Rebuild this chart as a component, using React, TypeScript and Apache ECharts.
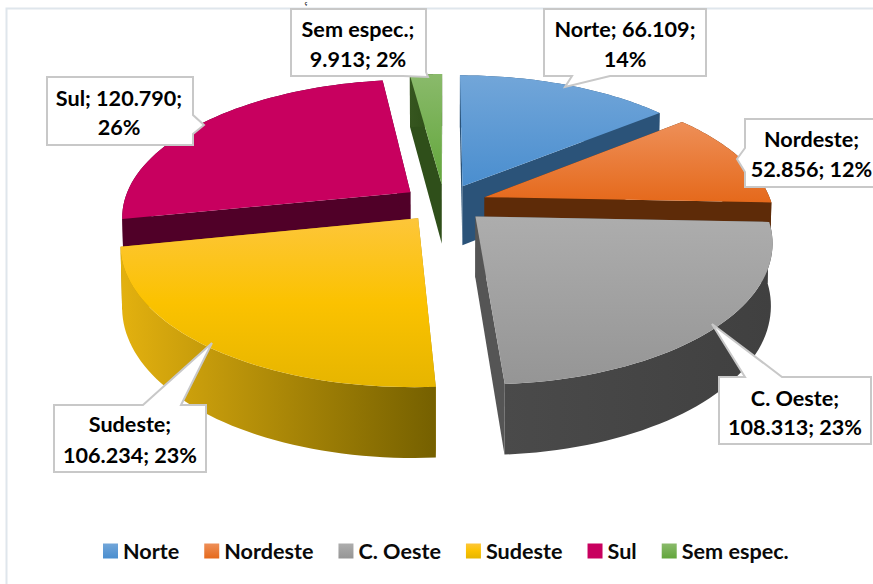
import React, { useEffect, useRef } from "react";
import * as echarts from "echarts";

const categories = ["Norte", "Nordeste", "C. Oeste", "Sudeste", "Sul", "Sem espec."];
const values = [66109, 52856, 108313, 106234, 120790, 9913];
const percents = [14, 12, 23, 23, 26, 2];
const paintOrder = [5, 0, 4, 1, 3, 2];
const clippedTitle = "ç";

const FONT = "Lato";
const topColors = [
  ["#72A6D9", "#4A8ECF"],
  ["#EE8F58", "#E5691B"],
  ["#ADADAD", "#959595"],
  ["#FDC63A", "#FBC200", "#E6B500"],
  ["#C8005F", "#C8005F"],
  ["#8ABA6B", "#62A63B"],
];
const rimColors = [
  ["#2B5379", "#2B5379"],
  ["#5E2B08", "#5E2B08"],
  ["#4A4A4A", "#404040"],
  ["#E3B10F", "#756000"],
  ["#500028", "#500028"],
  ["#36561F", "#2A4A15"],
];
const radialColors = ["#2B5379", "#5E2B08", "#555555", "#B08A00", "#500028", "#2F4F1A"];

// projection of the exploded 3D pie
const CX = 444.5, CY = 203, A = 287, B = 134.8, K = 0.168, EXPLODE_X = 0.148, EXPLODE_V = 0.14, DEPTH = 60;
const total = values.reduce((s, v) => s + v, 0);
const TAU = Math.PI * 2;

function project(theta: number, r: number, mid: number, bottom: boolean): number[] {
  const X = r * Math.sin(theta) + EXPLODE_X * Math.sin(mid);
  const V = -r * Math.cos(theta) - EXPLODE_V * Math.cos(mid);
  const s = 1 / (1 - K * V);
  const x = CX + A * X * s;
  const y = CY + B * V * s + (bottom ? DEPTH * Math.pow(s, 0.8) : 0);
  return bottom ? [CX + (x - CX) * 0.995, y] : [x, y];
}

function grad(c: string[], horizontal: boolean) {
  return new echarts.graphic.LinearGradient(
    0,
    0,
    horizontal ? 1 : 0,
    horizontal ? 0 : 1,
    c.map((color, n) => ({ offset: n / (c.length - 1), color }))
  );
}

function sliceRender(i: number) {
  return (_params: any, api: any) => {
    const a0 = (api.value(0) / total) * TAU;
    const a1 = (api.value(1) / total) * TAU;
    const mid = (a0 + a1) / 2;
    const steps = 48;
    const arcTop: number[][] = [];
    const arcBot: number[][] = [];
    for (let k = 0; k <= steps; k++) {
      const t = a0 + ((a1 - a0) * k) / steps;
      arcTop.push(project(t, 1, mid, false));
      arcBot.push(project(t, 1, mid, true));
    }
    const apexTop = project(0, 0, mid, false);
    const apexBot = project(0, 0, mid, true);
    const poly = (points: number[][], fill: any) => ({
      type: "polygon",
      shape: { points },
      style: { fill, stroke: null },
      silent: true,
    });
    return {
      type: "group",
      children: [
        poly([apexTop, arcTop[0], arcBot[0], apexBot], radialColors[i]),
        poly([apexTop, arcTop[steps], arcBot[steps], apexBot], radialColors[i]),
        poly([...arcTop, ...[...arcBot].reverse()], grad(rimColors[i], true)),
        poly([apexTop, ...arcTop], grad(topColors[i], false)),
      ],
    };
  };
}

let cumulative = 0;
const ranges = values.map((v) => {
  const r = [cumulative, cumulative + v];
  cumulative += v;
  return r;
});

const fmt = (v: number) => String(v).replace(/\B(?=(\d{3})+$)/g, ".");
const labelLines = [
  [`${categories[0]}; ${fmt(values[0])};`, `${percents[0]}%`],
  [`${categories[1]};`, `${fmt(values[1])}; ${percents[1]}%`],
  [`${categories[2]};`, `${fmt(values[2])}; ${percents[2]}%`],
  [`${categories[3]};`, `${fmt(values[3])}; ${percents[3]}%`],
  [`${categories[4]}; ${fmt(values[4])};`, `${percents[4]}%`],
  [`${categories[5]};`, `${fmt(values[5])}; ${percents[5]}%`],
];

// callout outline: box and its tail, text centre and line y's
const callouts = [
  { pts: [[544, 9], [706, 9], [706, 76], [610, 76], [565, 87], [572, 76], [544, 76]], tx: 625, ty: [29, 59] },
  { pts: [[745, 119], [900, 119], [900, 187], [745, 187], [745, 172], [737, 159], [745, 148]], tx: 811.5, ty: [139, 169] },
  { pts: [[719, 377], [745, 377], [712, 324], [782, 377], [871, 377], [871, 444], [719, 444]], tx: 795, ty: [398, 427] },
  { pts: [[54, 405], [143, 405], [212, 343], [181, 405], [206, 405], [206, 472], [54, 472]], tx: 130, ty: [424, 455] },
  { pts: [[47, 77], [193, 77], [193, 115], [204, 125], [193, 134], [193, 145], [47, 145]], tx: 119, ty: [98, 127] },
  { pts: [[291, 9], [426, 9], [426, 72], [428, 77], [403, 76], [291, 76]], tx: 358, ty: [29, 59] },
];

export default function App() {
  const ref = useRef<HTMLDivElement>(null);
  useEffect(() => {
    document.body.style.margin = "0";
    const chart = echarts.init(ref.current!, undefined, { renderer: "svg" });
    const graphic: any[] = [
      {
        type: "rect",
        shape: { x: 6.5, y: 8.5, width: 900, height: 620 },
        style: { fill: "none", stroke: "#DFE6EC", lineWidth: 2 },
        z: 0,
        silent: true,
      },
      {
        type: "text",
        x: 306,
        y: 0,
        style: {
          text: clippedTitle,
          fill: "#000000",
          font: `bold 5px ${FONT}`,
          textAlign: "center",
          textVerticalAlign: "top",
        },
        z: 1,
        silent: true,
      },
    ];
    callouts.forEach((c, i) => {
      graphic.push({
        type: "polygon",
        shape: { points: c.pts },
        style: { fill: "#FFFFFF", stroke: "#C8C8C8", lineWidth: 2 },
        z: 10,
        silent: true,
      });
      labelLines[i].forEach((line, j) => {
        graphic.push({
          type: "text",
          x: c.tx,
          y: c.ty[j],
          style: {
            text: line,
            fill: "#000000",
            font: `bold 21.6px ${FONT}`,
            textAlign: "center",
            textVerticalAlign: "middle",
          },
          z: 11,
          silent: true,
        });
      });
    });
    chart.setOption({
      animation: false,
      backgroundColor: "#FFFFFF",
      legend: {
        data: categories,
        left: 98,
        top: 535,
        itemWidth: 15,
        itemHeight: 15,
        itemGap: 25,
        icon: "rect",
        textStyle: { fontFamily: FONT, fontWeight: "bold", fontSize: 21.6, color: "#0A0A0A" },
        selectedMode: false,
      },
      graphic,
      series: paintOrder.map((i) => ({
        type: "custom",
        name: categories[i],
        coordinateSystem: "none",
        itemStyle: { color: grad(topColors[i], false) },
        renderItem: sliceRender(i),
        data: [ranges[i]],
        silent: true,
      })),
    });
    return () => chart.dispose();
  }, []);
  return <div ref={ref} style={{ position: "fixed", left: 0, top: 0, width: 873, height: 584 }} />;
}
